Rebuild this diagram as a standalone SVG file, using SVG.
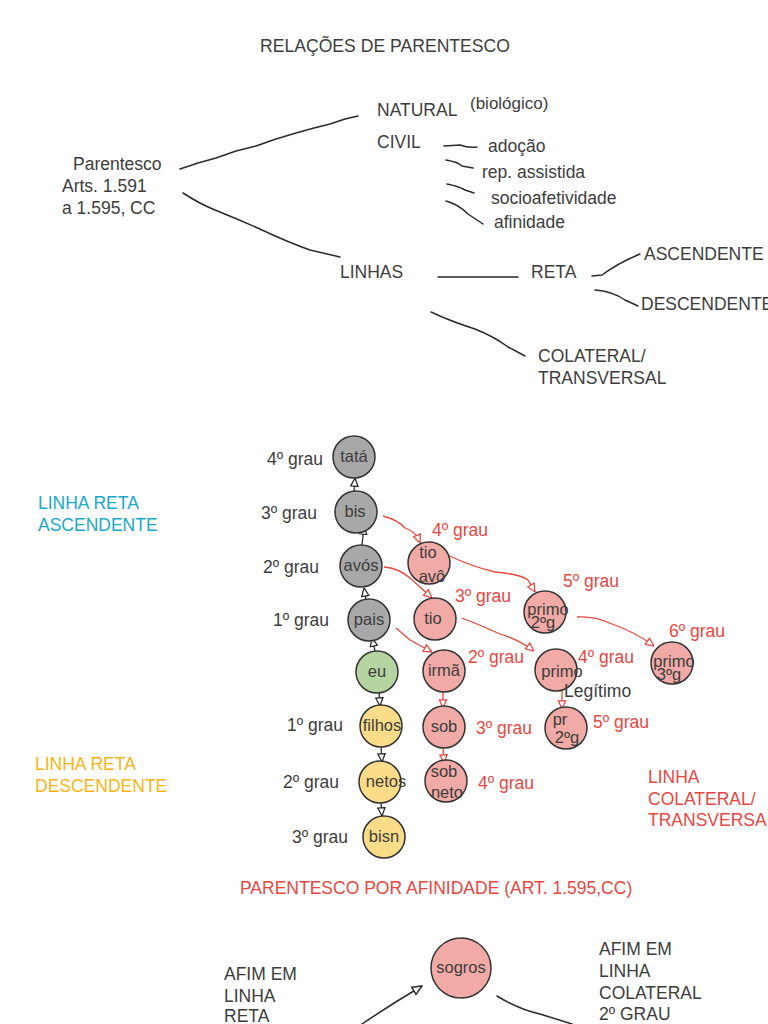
<svg xmlns="http://www.w3.org/2000/svg" width="768" height="1024" viewBox="0 0 768 1024">
<defs>
<style>
text{font-family:"Liberation Sans",Arial,sans-serif;fill:#3d3d3d;}
.t15{font-size:17.5px;}
.t16{font-size:17.5px;}
.t14{font-size:17px;}
.red{fill:#e8473f;}
.cyan{fill:#1aa9c6;}
.orange{fill:#f6b516;}
.sk{fill:none;stroke:#2a2a2a;stroke-width:1.5;stroke-linecap:round;stroke-linejoin:round;}
.bl{fill:none;stroke:#2a2a2a;stroke-width:1.3;}
.rd{fill:none;stroke:#e8473f;stroke-width:1.3;}
.gray{fill:#a8a8a8;stroke:#333;stroke-width:1.5;}
.green{fill:#b4d4a2;stroke:#333;stroke-width:1.5;}
.yellow{fill:#fbdc88;stroke:#333;stroke-width:1.5;}
.pink{fill:#f2aaa6;stroke:#333;stroke-width:1.5;}
.nl{font-size:16.5px;text-anchor:middle;}
</style>
<marker id="ab" viewBox="0 0 10 10" refX="10" refY="5" markerWidth="7" markerHeight="7" orient="auto">
<path d="M1,1 L10,5 L1,9 z" fill="#fff" stroke="#2a2a2a" stroke-width="1.4"/>
</marker>
<marker id="ar" viewBox="0 0 10 10" refX="10" refY="5" markerWidth="7" markerHeight="7" orient="auto">
<path d="M1,1 L10,5 L1,9 z" fill="#fff" stroke="#e8473f" stroke-width="1.4"/>
</marker>
</defs>
<rect width="768" height="1024" fill="#fff"/>

<text x="260" y="52" style="font-size:17.6px">RELAÇÕES DE PARENTESCO</text>

<g id="top-scheme">
<text x="73" y="170" class="t15">Parentesco</text>
<text x="62" y="192" class="t15">Arts. 1.591</text>
<text x="62" y="214" class="t15">a 1.595, CC</text>
<text x="377" y="116" class="t16">NATURAL</text>
<text x="470" y="109" class="t14">(biológico)</text>
<text x="377" y="148" class="t16">CIVIL</text>
<text x="488" y="152" class="t15">adoção</text>
<text x="482" y="178" class="t15">rep. assistida</text>
<text x="491" y="204" class="t15">socioafetividade</text>
<text x="494" y="228" class="t15">afinidade</text>
<text x="340" y="278" class="t16">LINHAS</text>
<text x="531" y="278" class="t16">RETA</text>
<text x="644" y="260" class="t16">ASCENDENTE</text>
<text x="641" y="310" class="t16">DESCENDENTE</text>
<text x="538" y="362" class="t16">COLATERAL/</text>
<text x="538" y="384" class="t16">TRANSVERSAL</text>
</g>

<g id="top-lines">
<path class="sk" d="M180,169 L198,163 L216,158 L236,151 L256,146 L276,139 L296,133 L314,128 L330,124 L345,119 L358,116"/>
<path class="sk" d="M183,193 Q200,204 215,210 Q240,220 262,230 Q290,243 310,250 L340,257"/>
<path class="sk" d="M444,146 L460,145 Q468,148 477,147"/>
<path class="sk" d="M446,160 Q458,162 462,166 L473,168"/>
<path class="sk" d="M447,184 Q458,186 465,190 L474,193"/>
<path class="sk" d="M446,201 Q458,204 468,214 L483,224"/>
<path class="sk" d="M438,277 L518,277"/>
<path class="sk" d="M592,276 L602,275 Q618,263 640,254"/>
<path class="sk" d="M595,290 Q612,291 625,300 L638,306"/>
<path class="sk" d="M431,312 Q450,321 475,329 Q495,337 508,347 L525,356"/>
</g>

<g id="side-labels">
<text x="38" y="509" class="t15 cyan">LINHA RETA</text>
<text x="38" y="531" class="t15 cyan">ASCENDENTE</text>
<text x="35" y="770" class="t15 orange">LINHA RETA</text>
<text x="35" y="792" class="t15 orange">DESCENDENTE</text>
<text x="648" y="783" class="t15 red">LINHA</text>
<text x="648" y="805" class="t15 red">COLATERAL/</text>
<text x="648" y="826" class="t15 red">TRANSVERSA</text>
</g>

<g id="grau-labels">
<text x="267" y="465" class="t15">4º grau</text>
<text x="261" y="519" class="t15">3º grau</text>
<text x="263" y="573" class="t15">2º grau</text>
<text x="273" y="626" class="t15">1º grau</text>
<text x="287" y="731" class="t15">1º grau</text>
<text x="283" y="788" class="t15">2º grau</text>
<text x="292" y="843" class="t15">3º grau</text>
<text x="432" y="536" class="t15 red">4º grau</text>
<text x="455" y="602" class="t15 red">3º grau</text>
<text x="563" y="587" class="t15 red">5º grau</text>
<text x="669" y="637" class="t15 red">6º grau</text>
<text x="468" y="663" class="t15 red">2º grau</text>
<text x="578" y="663" class="t15 red">4º grau</text>
<text x="593" y="728" class="t15 red">5º grau</text>
<text x="476" y="734" class="t15 red">3º grau</text>
<text x="478" y="789" class="t15 red">4º grau</text>
</g>

<g id="connectors">
<path class="bl" d="M354,491 L355,478" marker-end="url(#ab)"/>
<path class="bl" d="M362,545 L364,526" marker-end="url(#ab)"/>
<path class="bl" d="M366,600 L364,588" marker-end="url(#ab)"/>
<path class="bl" d="M375,651 L372,638" marker-end="url(#ab)"/>
<path class="bl" d="M379,693 L380,706" marker-end="url(#ab)"/>
<path class="bl" d="M381,746 L382,762" marker-end="url(#ab)"/>
<path class="bl" d="M381,803 L382,816" marker-end="url(#ab)"/>
<path class="rd" d="M383,516 Q398,520 405,528 Q415,532 418,538 L420,543" marker-end="url(#ar)"/>
<path class="rd" d="M384,567 Q398,568 410,578 L432,598" marker-end="url(#ar)"/>
<path class="rd" d="M450,556 Q470,566 495,572 Q520,574 528,580 L535,592" marker-end="url(#ar)"/>
<path class="rd" d="M462,618 Q480,625 500,634 Q520,640 534,651" marker-end="url(#ar)"/>
<path class="rd" d="M396,628 L410,640 L432,652" marker-end="url(#ar)"/>
<path class="rd" d="M577,617 Q595,616 612,624 Q635,632 654,646" marker-end="url(#ar)"/>
<path class="rd" d="M443,692 L443,708" marker-end="url(#ar)"/>
<path class="rd" d="M443,748 L444,763" marker-end="url(#ar)"/>
<path class="rd" d="M562,688 L562,709" marker-end="url(#ar)"/>
<path class="sk" d="M362,1024 Q390,1005 422,986" marker-end="url(#ab)"/>
<path class="sk" d="M497,996 Q520,1010 540,1014 L572,1024"/>
</g>

<g id="node-tata"><circle cx="354" cy="457" r="21" class="gray"/><text x="354" y="462" class="nl">tatá</text></g>
<g id="node-bis"><circle cx="356" cy="512" r="21" class="gray"/><text x="355" y="517" class="nl">bis</text></g>
<g id="node-avos"><circle cx="361" cy="566" r="21" class="gray"/><text x="361" y="571" class="nl">avós</text></g>
<g id="node-pais"><circle cx="369" cy="620" r="21" class="gray"/><text x="369" y="625" class="nl">pais</text></g>
<g id="node-eu"><circle cx="377" cy="672" r="21" class="green"/><text x="377" y="677" class="nl">eu</text></g>
<g id="node-filhos"><circle cx="381" cy="726" r="21" class="yellow"/><text x="382" y="731" class="nl">filhos</text></g>
<g id="node-netos"><circle cx="380" cy="782" r="21" class="yellow"/><text x="386" y="787" class="nl">netos</text></g>
<g id="node-bisn"><circle cx="384" cy="837" r="21" class="yellow"/><text x="384" y="842" class="nl">bisn</text></g>

<g id="node-tioavo"><circle cx="429" cy="563" r="21" class="pink"/><text x="428" y="558" class="nl">tio</text><text x="432" y="582" class="nl">avô</text></g>
<g id="node-tio"><circle cx="435" cy="619" r="21" class="pink"/><text x="433" y="624" class="nl">tio</text></g>
<g id="node-irma"><circle cx="444" cy="671" r="21" class="pink"/><text x="444" y="676" class="nl">irmã</text></g>
<g id="node-sob"><circle cx="444" cy="727" r="21" class="pink"/><text x="444" y="732" class="nl">sob</text></g>
<g id="node-sobneto"><circle cx="446" cy="781" r="21" class="pink"/><text x="444" y="777" class="nl">sob</text><text x="447" y="798" class="nl">neto</text></g>
<g id="node-primo2g"><circle cx="545" cy="612" r="21" class="pink"/><text x="548" y="615" class="nl">primo</text><text x="543" y="628" class="nl">2ºg</text></g>
<g id="node-primo"><circle cx="556" cy="670" r="21" class="pink"/><text x="562" y="677" class="nl">primo</text></g>
<text x="564" y="697" class="t15">Legítimo</text>
<g id="node-pr2g"><circle cx="566" cy="728" r="21" class="pink"/><text x="560" y="725" class="nl">pr</text><text x="567" y="743" class="nl">2ºg</text></g>
<g id="node-primo3g"><circle cx="672" cy="663" r="21" class="pink"/><text x="674" y="667" class="nl">primo</text><text x="669" y="680" class="nl">3ºg</text></g>

<text x="240" y="894" class="t15 red">PARENTESCO POR AFINIDADE (ART. 1.595,CC)</text>
<g id="node-sogros"><circle cx="461" cy="968" r="30" class="pink"/><text x="461" y="973" class="nl">sogros</text></g>
<g id="afinidade-labels">
<text x="224" y="980" class="t15">AFIM EM</text>
<text x="224" y="1002" class="t15">LINHA</text>
<text x="224" y="1022" class="t15">RETA</text>
<text x="599" y="955" class="t15">AFIM EM</text>
<text x="599" y="977" class="t15">LINHA</text>
<text x="599" y="999" class="t15">COLATERAL</text>
<text x="599" y="1020" class="t15">2º GRAU</text>
</g>
</svg>
